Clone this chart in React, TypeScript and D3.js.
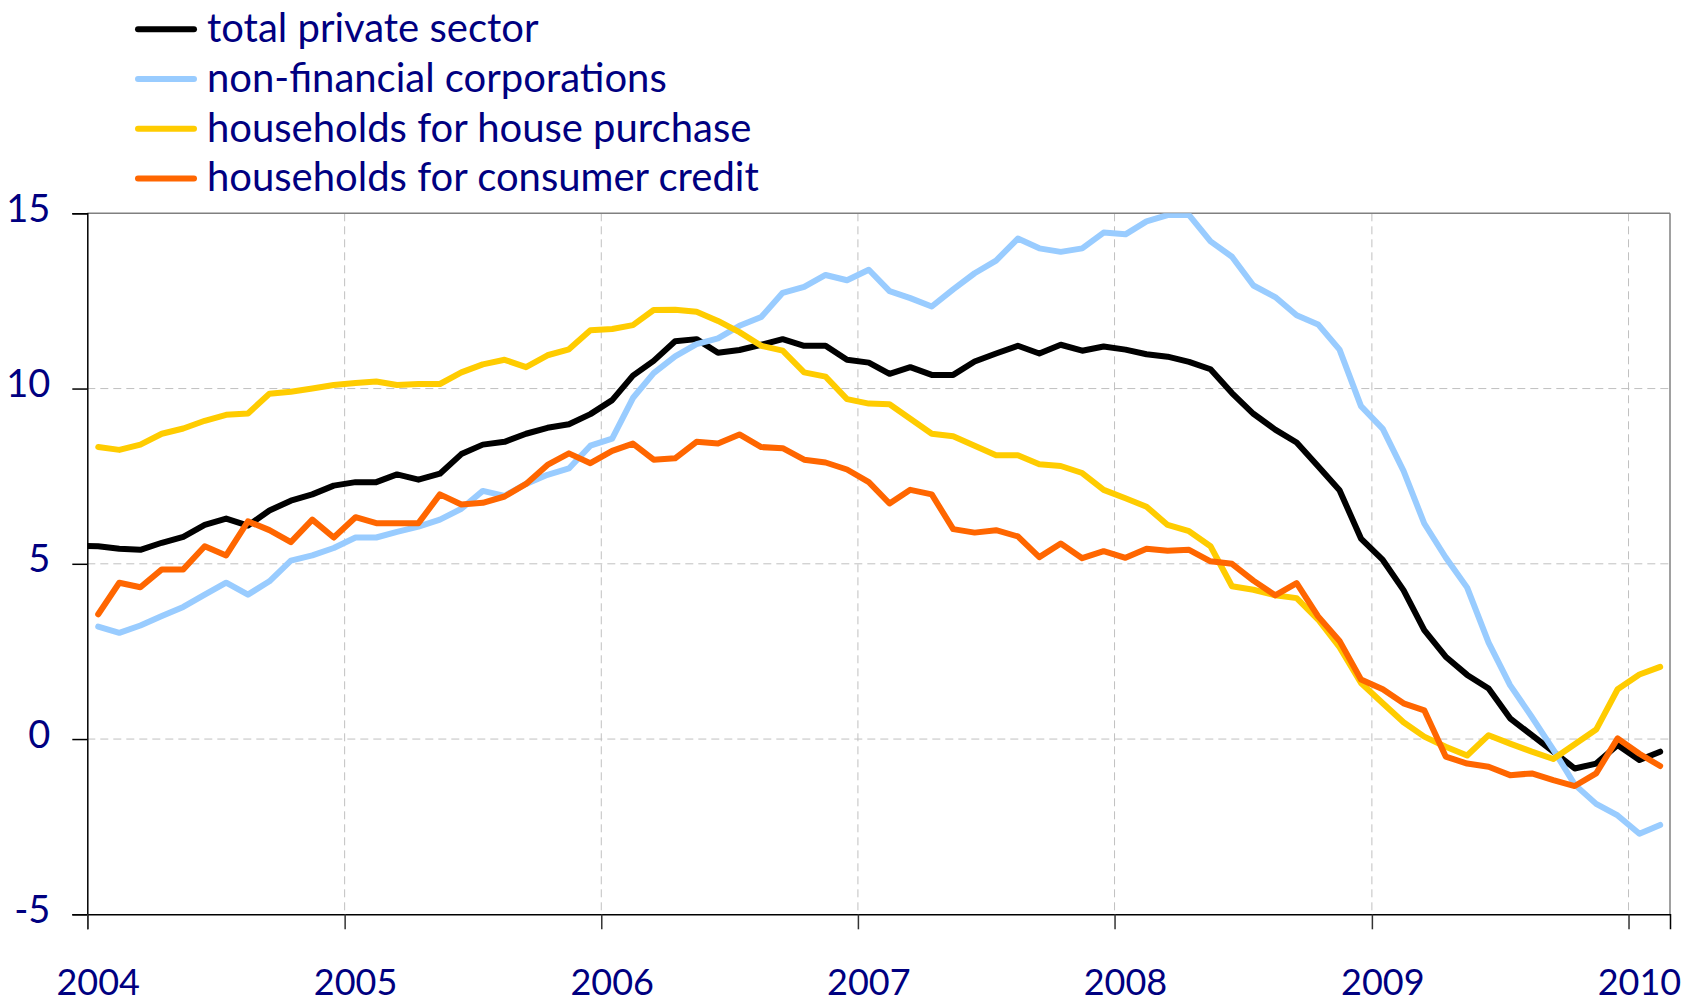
import React, { useRef, useEffect } from 'react';
import * as d3 from 'd3';

// monthly observations, Dec 2003 .. Feb 2010
const months = d3.timeMonth.range(new Date(2003, 11, 1), new Date(2010, 2, 1));
const yearLabels = ['2004', '2005', '2006', '2007', '2008', '2009', '2010'];
const yTicks = [-5, 0, 5, 10, 15];

// total private sector (starts Dec 2003)
const totalPrivate = [
  5.52,
  5.50, 5.43, 5.40, 5.60, 5.77, 6.11, 6.29, 6.09, 6.52, 6.80, 6.98, 7.23,
  7.33, 7.33, 7.55, 7.40, 7.57, 8.13, 8.40, 8.48, 8.71, 8.88, 8.98, 9.27,
  9.67, 10.37, 10.79, 11.35, 11.41, 11.02, 11.10, 11.25, 11.41, 11.22, 11.22, 10.82,
  10.74, 10.42, 10.61, 10.39, 10.39, 10.77, 11.00, 11.22, 11.00, 11.25, 11.08, 11.20,
  11.11, 10.98, 10.91, 10.76, 10.55, 9.87, 9.28, 8.83, 8.46, 7.78, 7.10, 5.72,
  5.11, 4.25, 3.11, 2.35, 1.83, 1.44, 0.59, 0.11, -0.36, -0.84, -0.70, -0.17,
  -0.60, -0.36,
];

// the other series start Jan 2004
const nonFinancial = [
  3.21, 3.03, 3.24, 3.51, 3.77, 4.12, 4.46, 4.12, 4.50, 5.09, 5.24, 5.45,
  5.75, 5.75, 5.91, 6.06, 6.26, 6.57, 7.08, 6.94, 7.28, 7.54, 7.72, 8.37,
  8.57, 9.73, 10.44, 10.92, 11.27, 11.43, 11.79, 12.04, 12.73, 12.90, 13.24, 13.09,
  13.39, 12.78, 12.58, 12.34, 12.83, 13.29, 13.65, 14.28, 14.00, 13.90, 14.00, 14.45,
  14.40, 14.77, 14.95, 14.95, 14.20, 13.76, 12.94, 12.61, 12.09, 11.83, 11.11, 9.50,
  8.85, 7.65, 6.15, 5.18, 4.32, 2.75, 1.54, 0.63, -0.30, -1.30, -1.85, -2.18,
  -2.70, -2.45,
];

const housePurchase = [
  8.33, 8.25, 8.40, 8.71, 8.86, 9.08, 9.25, 9.29, 9.85, 9.91, 10.00, 10.10,
  10.16, 10.20, 10.10, 10.13, 10.13, 10.46, 10.69, 10.82, 10.61, 10.95, 11.12, 11.66,
  11.70, 11.81, 12.24, 12.25, 12.19, 11.93, 11.61, 11.22, 11.08, 10.46, 10.34, 9.70,
  9.57, 9.55, 9.14, 8.71, 8.64, 8.37, 8.10, 8.10, 7.84, 7.79, 7.59, 7.11,
  6.87, 6.63, 6.11, 5.93, 5.50, 4.36, 4.26, 4.10, 4.02, 3.41, 2.62, 1.60,
  1.02, 0.48, 0.07, -0.22, -0.47, 0.11, -0.13, -0.36, -0.57, -0.15, 0.27, 1.42,
  1.84, 2.06,
];

const consumerCredit = [
  3.56, 4.46, 4.33, 4.84, 4.84, 5.50, 5.24, 6.21, 5.96, 5.62, 6.26, 5.75,
  6.33, 6.16, 6.16, 6.16, 6.98, 6.69, 6.74, 6.92, 7.28, 7.82, 8.15, 7.87,
  8.22, 8.43, 7.97, 8.01, 8.48, 8.43, 8.69, 8.33, 8.30, 7.97, 7.89, 7.69,
  7.33, 6.72, 7.11, 6.98, 5.99, 5.89, 5.96, 5.78, 5.19, 5.58, 5.16, 5.36,
  5.17, 5.43, 5.37, 5.40, 5.07, 5.00, 4.52, 4.10, 4.45, 3.50, 2.80, 1.70,
  1.42, 1.02, 0.82, -0.50, -0.70, -0.79, -1.03, -0.98, -1.17, -1.34, -0.98, 0.02,
  -0.42, -0.77,
];

const seriesNames = [
  'total private sector',
  'non-financial corporations',
  'households for house purchase',
  'households for consumer credit',
];
const seriesColors = ['#000000', '#99ccff', '#ffcc00', '#ff6600'];
const seriesValues = [
  totalPrivate,
  [null, ...nonFinancial],
  [null, ...housePurchase],
  [null, ...consumerCredit],
];

const W = 1683;
const H = 1004;
const NAVY = '#000080';
const FONT = 'Lato, "Open Sans", sans-serif';

export default function App() {
  const ref = useRef<SVGSVGElement>(null);

  useEffect(() => {
    const svg = d3.select(ref.current);
    svg.selectAll('*').remove();

    const left = 87.3, right = 1670, top = 213.3, bottom = 914.3;

    const x = d3.scaleTime()
      .domain([new Date(2004, 0, 1), new Date(2010, 2, 1)])
      .range([left, right]);
    const y = d3.scaleLinear().domain([-5, 15]).range([bottom, top]);

    const mid = (d: Date) => new Date((+d + +d3.timeMonth.offset(d, 1)) / 2);
    const years = yearLabels.map(s => new Date(+s, 0, 1));

    // grid
    const grid = svg.append('g');
    grid.selectAll('.vg')
      .data(years.slice(1))
      .enter()
      .append('line')
      .attr('x1', d => x(d)).attr('x2', d => x(d))
      .attr('y1', top).attr('y2', bottom)
      .attr('stroke', '#c0c0c0').attr('stroke-width', 1)
      .attr('stroke-dasharray', '8,5');
    grid.selectAll('.hg')
      .data(yTicks.filter(v => v > -5 && v < 15))
      .enter()
      .append('line')
      .attr('x1', left).attr('x2', right)
      .attr('y1', d => y(d)).attr('y2', d => y(d))
      .attr('stroke', '#c0c0c0').attr('stroke-width', 1)
      .attr('stroke-dasharray', '8,5');

    // frame (top / right)
    svg.append('line')
      .attr('x1', left).attr('x2', right).attr('y1', top).attr('y2', top)
      .attr('stroke', '#808080').attr('stroke-width', 1.5);
    svg.append('line')
      .attr('x1', right).attr('x2', right).attr('y1', top).attr('y2', bottom)
      .attr('stroke', '#808080').attr('stroke-width', 1.5);

    // lines
    svg.append('clipPath').attr('id', 'plot-clip')
      .append('rect')
      .attr('x', left).attr('y', top)
      .attr('width', right - left).attr('height', bottom - top);

    const line = d3.line<number | null>()
      .defined(d => d !== null)
      .x((d, i) => x(mid(months[i])))
      .y(d => y(d as number));

    const plot = svg.append('g').attr('clip-path', 'url(#plot-clip)');
    seriesValues.forEach((vals, k) => {
      plot.append('path')
        .datum(vals)
        .attr('d', line)
        .attr('fill', 'none')
        .attr('stroke', seriesColors[k])
        .attr('stroke-width', 6)
        .attr('stroke-linejoin', 'round')
        .attr('stroke-linecap', 'round');
    });

    // y axis
    const yAxis = svg.append('g').attr('transform', `translate(${left},0)`)
      .call(d3.axisLeft(y).tickValues(yTicks).tickSize(15).tickPadding(22).tickFormat(d => String(d)));
    yAxis.select('.domain').attr('stroke', '#000').attr('stroke-width', 1.5);
    yAxis.selectAll('.tick line').attr('stroke', '#000').attr('stroke-width', 1.5);
    yAxis.selectAll('.tick text')
      .attr('fill', NAVY)
      .attr('dy', 8)
      .style('font-family', FONT)
      .style('font-size', '38px');

    // x axis
    const xAxis = svg.append('g').attr('transform', `translate(0,${bottom})`)
      .call(d3.axisBottom(x).tickValues(years).tickSize(15));
    xAxis.selectAll('.tick text').remove();
    xAxis.select('.domain').attr('stroke', '#000').attr('stroke-width', 1.5);
    xAxis.selectAll('.tick line').attr('stroke', '#333').attr('stroke-width', 1.5);

    svg.append('g').selectAll('text')
      .data(years)
      .enter()
      .append('text')
      .attr('x', d => x(mid(d)))
      .attr('y', 995)
      .attr('text-anchor', 'middle')
      .attr('fill', NAVY)
      .style('font-family', FONT)
      .style('font-size', '36px')
      .text((d, i) => yearLabels[i]);

    // legend
    const legend = svg.append('g');
    seriesNames.forEach((name, k) => {
      const ly = 29.3 + k * 49.7;
      legend.append('line')
        .attr('x1', 138).attr('x2', 194)
        .attr('y1', ly).attr('y2', ly)
        .attr('stroke', seriesColors[k])
        .attr('stroke-width', 6)
        .attr('stroke-linecap', 'round');
      legend.append('text')
        .attr('x', 207)
        .attr('y', ly + 13)
        .attr('fill', NAVY)
        .style('font-family', FONT)
        .style('font-size', '40px')
        .text(name);
    });
  }, []);

  return (
    <div style={{ position: 'absolute', left: 0, top: 0 }}>
      <svg ref={ref} width={W} height={H} style={{ display: 'block' }} />
    </div>
  );
}
